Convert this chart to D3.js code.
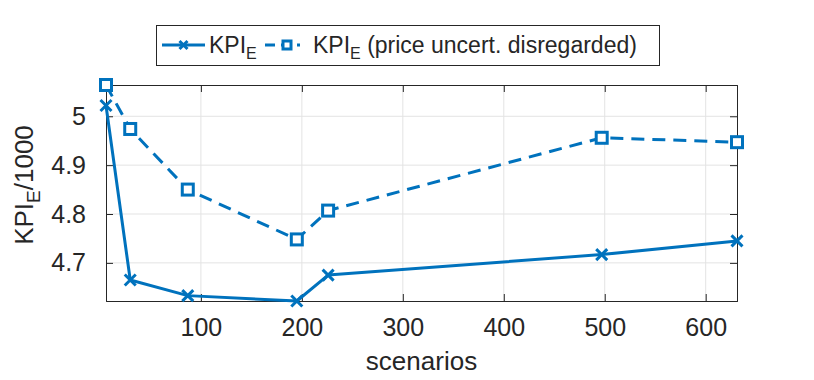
<!DOCTYPE html>
<html>
<head>
<meta charset="utf-8">
<script src="https://cdn.jsdelivr.net/npm/d3@7"></script>
<style>
  html, body { margin: 0; padding: 0; background: #fff; }
  svg { display: block; font-family: "Liberation Sans", Arial, Helvetica, sans-serif; }
</style>
</head>
<body>
<svg id="chart" width="814" height="380"></svg>
<script>
// ---- data ----
const scenarios = [6, 30, 87, 195, 226, 497, 631];
const kpiE = [5.022, 4.665, 4.633, 4.622, 4.675, 4.717, 4.745];
const kpiENoPrice = [5.064, 4.974, 4.850, 4.748, 4.807, 4.956, 4.947];
const xTicks = [100, 200, 300, 400, 500, 600];
const yTicks = [4.7, 4.8, 4.9, 5.0];
const seriesNames = ["KPI", "KPI"];
const seriesSubs = ["E", "E"];
const seriesSuffix = ["", " (price uncert. disregarded)"];

// ---- layout ----
const svg = d3.select("#chart");
const plot = { left: 106, right: 737, top: 85, bottom: 301 };
const color = "#0072BD";
const axisColor = "#262626";
const gridColor = "#e3e3e3";
const tickFont = 25;

const x = d3.scaleLinear().domain(d3.extent(scenarios)).range([plot.left, plot.right]);
const allY = kpiE.concat(kpiENoPrice);
const y = d3.scaleLinear().domain(d3.extent(allY)).range([plot.bottom, plot.top]);

// grid
const g = svg.append("g");
g.selectAll("line.gx").data(xTicks).join("line")
  .attr("x1", d => x(d)).attr("x2", d => x(d))
  .attr("y1", plot.top).attr("y2", plot.bottom)
  .attr("stroke", gridColor).attr("stroke-width", 1);
g.selectAll("line.gy").data(yTicks).join("line")
  .attr("y1", d => y(d)).attr("y2", d => y(d))
  .attr("x1", plot.left).attr("x2", plot.right)
  .attr("stroke", gridColor).attr("stroke-width", 1);

// axes (ticks inward, box)
const tickLen = 7;
const xAxisB = d3.axisBottom(x).tickValues(xTicks).tickSize(-tickLen).tickPadding(tickLen + 10).tickFormat(d3.format("d"));
const xAxisT = d3.axisTop(x).tickValues(xTicks).tickSize(-tickLen).tickFormat("");
const yAxisL = d3.axisLeft(y).tickValues(yTicks).tickSize(-tickLen).tickPadding(tickLen + 13).tickFormat(d => String(+d.toFixed(1)));
const yAxisR = d3.axisRight(y).tickValues(yTicks).tickSize(-tickLen).tickFormat("");

function styleAxis(sel) {
  sel.select(".domain").attr("stroke", axisColor).attr("stroke-width", 1);
  sel.selectAll(".tick line").attr("stroke", axisColor).attr("stroke-width", 1);
  sel.selectAll(".tick text").attr("fill", axisColor).style("font-size", tickFont + "px")
    .style("font-family", "'Liberation Sans', Arial, sans-serif");
}
svg.append("g").attr("transform", `translate(0,${plot.bottom})`).call(xAxisB).call(styleAxis);
svg.append("g").attr("transform", `translate(0,${plot.top})`).call(xAxisT).call(styleAxis);
svg.append("g").attr("transform", `translate(${plot.left},0)`).call(yAxisL).call(styleAxis);
svg.append("g").attr("transform", `translate(${plot.right},0)`).call(yAxisR).call(styleAxis);

// lines
const lineGen = (vals) => d3.line().x((d, i) => x(scenarios[i])).y(d => y(d))(vals);
const lw = 3;
svg.append("path").attr("d", lineGen(kpiE)).attr("fill", "none")
  .attr("stroke", color).attr("stroke-width", lw).attr("stroke-linejoin", "round");
svg.append("path").attr("d", lineGen(kpiENoPrice)).attr("fill", "none")
  .attr("stroke", color).attr("stroke-width", lw).attr("stroke-dasharray", "13,8");

// markers
function drawX(sel, cx, cy, s) {
  sel.append("path").attr("d", `M${cx - s},${cy - s}L${cx + s},${cy + s}M${cx - s},${cy + s}L${cx + s},${cy - s}`)
    .attr("stroke", color).attr("stroke-width", lw).attr("fill", "none");
}
function drawSq(sel, cx, cy, s) {
  sel.append("rect").attr("x", cx - s).attr("y", cy - s).attr("width", 2 * s).attr("height", 2 * s)
    .attr("fill", "#fff").attr("stroke", color).attr("stroke-width", lw);
}
const mk = svg.append("g");
kpiE.forEach((v, i) => drawX(mk, x(scenarios[i]), y(v), 5.5));
kpiENoPrice.forEach((v, i) => drawSq(mk, x(scenarios[i]), y(v), 5.5));

// axis labels
svg.append("text").attr("x", (plot.left + plot.right) / 2).attr("y", 370)
  .attr("text-anchor", "middle").attr("fill", axisColor).style("font-size", "26px").text("scenarios");

const yl = svg.append("text").attr("transform", `translate(33,185) rotate(-90)`)
  .attr("text-anchor", "middle").attr("fill", axisColor).style("font-size", "26px");
yl.append("tspan").text("KPI");
yl.append("tspan").attr("dy", 7).style("font-size", "19px").text("E");
yl.append("tspan").attr("dy", -7).text("/1000");

// legend
const leg = svg.append("g");
leg.append("rect").attr("x", 156.5).attr("y", 25.5).attr("width", 503).attr("height", 40)
  .attr("fill", "#fff").attr("stroke", axisColor).attr("stroke-width", 1);
const ly = 45;
leg.append("line").attr("x1", 162).attr("x2", 205).attr("y1", ly).attr("y2", ly)
  .attr("stroke", color).attr("stroke-width", lw);
drawX(leg, 183.5, ly, 4);
leg.append("line").attr("x1", 265).attr("x2", 300).attr("y1", ly).attr("y2", ly)
  .attr("stroke", color).attr("stroke-width", lw).attr("stroke-dasharray", "10,6");
drawSq(leg, 287, ly, 4);
const legX = [209, 313];
legX.forEach((lx, i) => {
  const t = leg.append("text").attr("x", lx).attr("y", 53).attr("fill", axisColor).style("font-size", "23px");
  t.append("tspan").text(seriesNames[i]);
  t.append("tspan").attr("dy", 6).style("font-size", "16px").text(seriesSubs[i]);
  if (seriesSuffix[i]) t.append("tspan").attr("dy", -6).text(seriesSuffix[i]);
});
</script>
</body>
</html>
